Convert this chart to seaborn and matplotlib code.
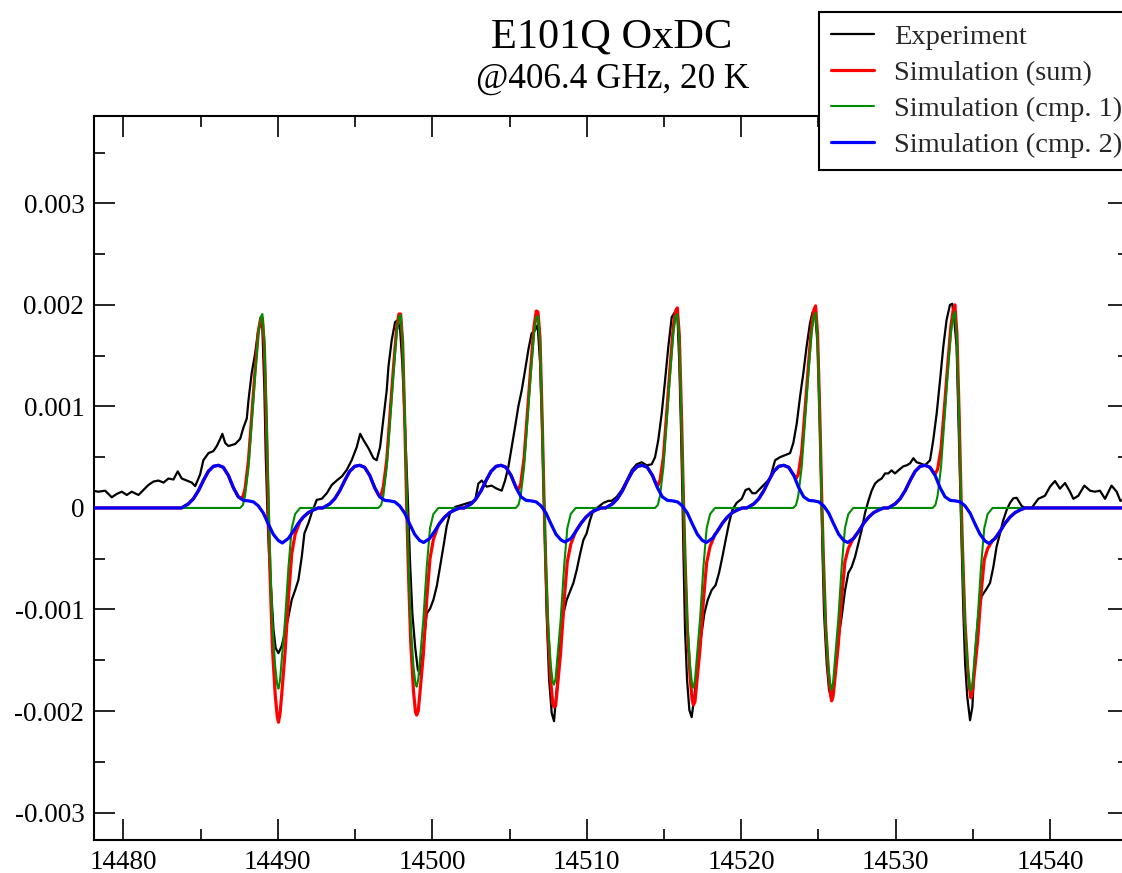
import matplotlib
matplotlib.use("Agg")
import matplotlib.pyplot as plt
from matplotlib.ticker import FixedLocator, MultipleLocator
import numpy as np
import seaborn as sns

# Field axis in mT, signals in units of 1e-3 (derivative EPR amplitude)

# --- Experimental trace ---
exp_field = [
    14478.00, 14478.39, 14478.82, 14479.25, 14479.57, 14479.90, 14480.22, 14480.54, 14480.98, 14481.30,
    14481.62, 14481.95, 14482.27, 14482.60, 14482.92, 14483.24, 14483.52, 14483.78, 14484.10, 14484.43,
    14484.65, 14484.97, 14485.18, 14485.51, 14485.83, 14486.05, 14486.27, 14486.41, 14486.59, 14486.80,
    14487.24, 14487.56, 14487.77, 14487.99, 14488.10, 14488.31, 14488.53, 14488.70, 14488.85, 14489.00,
    14489.13, 14489.22, 14489.35, 14489.44, 14489.57, 14489.72, 14489.86, 14490.04, 14490.25, 14490.47,
    14490.69, 14490.90, 14491.12, 14491.33, 14491.55, 14491.72, 14491.98, 14492.19, 14492.52, 14492.84,
    14493.17, 14493.49, 14493.81, 14494.14, 14494.46, 14494.78, 14495.11, 14495.33, 14495.54, 14495.86,
    14496.19, 14496.40, 14496.62, 14496.83, 14497.05, 14497.16, 14497.37, 14497.59, 14497.76, 14497.92,
    14498.06, 14498.24, 14498.41, 14498.56, 14498.71, 14498.89, 14499.06, 14499.21, 14499.42, 14499.64,
    14499.86, 14500.07, 14500.29, 14500.50, 14500.72, 14500.93, 14501.15, 14501.48, 14501.90, 14502.34,
    14502.77, 14502.98, 14503.20, 14503.52, 14503.84, 14504.17, 14504.49, 14504.71, 14504.93, 14505.14,
    14505.36, 14505.57, 14505.79, 14506.01, 14506.22, 14506.43, 14506.65, 14506.82, 14506.98, 14507.08,
    14507.19, 14507.30, 14507.40, 14507.56, 14507.73, 14507.88, 14508.05, 14508.27, 14508.49, 14508.70,
    14508.92, 14509.13, 14509.35, 14509.57, 14509.78, 14509.99, 14510.21, 14510.43, 14510.75, 14511.07,
    14511.40, 14511.61, 14511.94, 14512.26, 14512.58, 14512.91, 14513.23, 14513.55, 14513.88, 14514.20,
    14514.42, 14514.63, 14514.85, 14515.07, 14515.28, 14515.50, 14515.72, 14515.88, 14515.99, 14516.10,
    14516.19, 14516.27, 14516.36, 14516.49, 14516.64, 14516.79, 14516.96, 14517.18, 14517.40, 14517.61,
    14517.83, 14518.08, 14518.34, 14518.56, 14518.78, 14518.99, 14519.21, 14519.42, 14519.70, 14520.03,
    14520.28, 14520.50, 14520.72, 14520.93, 14521.22, 14521.54, 14521.86, 14522.19, 14522.51, 14522.83,
    14523.16, 14523.37, 14523.59, 14523.81, 14524.02, 14524.23, 14524.45, 14524.62, 14524.78, 14524.95,
    14525.07, 14525.17, 14525.25, 14525.36, 14525.53, 14525.68, 14525.85, 14526.07, 14526.28, 14526.50,
    14526.72, 14526.93, 14527.15, 14527.37, 14527.58, 14527.79, 14528.01, 14528.23, 14528.44, 14528.66,
    14528.87, 14529.09, 14529.31, 14529.52, 14529.73, 14529.95, 14530.17, 14530.49, 14530.71, 14530.93,
    14531.14, 14531.35, 14531.57, 14531.90, 14532.22, 14532.43, 14532.65, 14532.87, 14533.08, 14533.29,
    14533.51, 14533.66, 14533.79, 14533.94, 14534.05, 14534.16, 14534.27, 14534.38, 14534.49, 14534.63,
    14534.81, 14534.96, 14535.13, 14535.35, 14535.56, 14535.82, 14536.10, 14536.32, 14536.53, 14536.75,
    14536.96, 14537.18, 14537.40, 14537.61, 14537.83, 14538.15, 14538.37, 14538.80, 14539.23, 14539.66,
    14539.99, 14540.31, 14540.63, 14540.96, 14541.28, 14541.50, 14541.82, 14542.21, 14542.58, 14542.90,
    14543.22, 14543.55, 14543.97, 14544.30, 14544.54, 14545.10,
]
exp_signal = [
    0.17, 0.16, 0.17, 0.105, 0.138, 0.16, 0.128, 0.16, 0.128, 0.177,
    0.226, 0.26, 0.27, 0.25, 0.29, 0.28, 0.36, 0.29, 0.27, 0.25,
    0.215, 0.33, 0.47, 0.54, 0.56, 0.61, 0.68, 0.73, 0.64, 0.61,
    0.63, 0.68, 0.79, 0.88, 1.06, 1.33, 1.52, 1.72, 1.82, 1.77,
    1.16, 0.50, -0.15, -0.48, -0.81, -1.20, -1.38, -1.43, -1.36, -1.22,
    -1.07, -0.905, -0.81, -0.71, -0.48, -0.25, -0.15, -0.05, 0.08, 0.09,
    0.145, 0.226, 0.27, 0.31, 0.374, 0.47, 0.60, 0.73, 0.67, 0.59,
    0.49, 0.47, 0.60, 0.87, 1.16, 1.39, 1.65, 1.83, 1.85, 1.75,
    1.42, 0.77, 0.11, -0.54, -1.04, -1.37, -1.59, -1.64, -1.37, -1.04,
    -0.99, -0.905, -0.77, -0.58, -0.38, -0.18, -0.05, 0.01, 0.03, 0.05,
    0.07, 0.24, 0.27, 0.21, 0.22, 0.19, 0.17, 0.27, 0.41, 0.60,
    0.80, 1.00, 1.16, 1.36, 1.56, 1.72, 1.75, 1.80, 1.42, 0.93,
    0.27, -0.38, -1.04, -1.69, -2.02, -2.10, -1.79, -1.37, -1.04, -0.905,
    -0.82, -0.74, -0.61, -0.45, -0.315, -0.25, -0.12, -0.02, 0.01, 0.05,
    0.07, 0.07, 0.11, 0.177, 0.27, 0.374, 0.43, 0.45, 0.42, 0.43,
    0.50, 0.67, 0.93, 1.26, 1.59, 1.88, 1.93, 1.85, 1.42, 0.77,
    0.11, -0.54, -1.20, -1.69, -1.99, -2.06, -1.86, -1.53, -1.27, -1.04,
    -0.905, -0.81, -0.76, -0.64, -0.48, -0.315, -0.15, -0.02, 0.05, 0.09,
    0.177, 0.19, 0.145, 0.145, 0.19, 0.24, 0.29, 0.47, 0.50, 0.52,
    0.54, 0.64, 0.83, 1.10, 1.33, 1.59, 1.82, 1.93, 1.92, 1.59,
    0.93, 0.27, -0.38, -1.04, -1.53, -1.79, -1.88, -1.62, -1.30, -1.07,
    -0.81, -0.64, -0.58, -0.48, -0.35, -0.22, -0.05, 0.07, 0.17, 0.24,
    0.27, 0.29, 0.34, 0.34, 0.37, 0.34, 0.37, 0.41, 0.42, 0.44,
    0.49, 0.45, 0.44, 0.42, 0.47, 0.67, 0.93, 1.26, 1.59, 1.85,
    2.00, 2.01, 1.85, 1.59, 0.93, 0.27, -0.38, -1.04, -1.53, -1.86,
    -2.09, -1.96, -1.46, -1.04, -0.87, -0.81, -0.74, -0.58, -0.38, -0.25,
    -0.12, -0.02, 0.05, 0.095, 0.10, 0.02, 0.0, 0.0, 0.09, 0.12,
    0.21, 0.265, 0.19, 0.245, 0.16, 0.09, 0.12, 0.22, 0.17, 0.16,
    0.17, 0.09, 0.22, 0.16, 0.07, 0.10,
]

# --- Simulated component 1 (narrow lines) ---
cmp1_field = [
    14478.10,
    14487.56, 14487.74, 14487.88, 14488.10, 14488.31, 14488.53, 14488.74, 14488.89, 14489.00, 14489.13, 14489.28, 14489.39,
    14489.50, 14489.65, 14489.83, 14489.96, 14490.04, 14490.14, 14490.25, 14490.47, 14490.69, 14490.90, 14491.12, 14491.44,
    14496.51, 14496.69, 14496.83, 14497.05, 14497.26, 14497.48, 14497.69, 14497.84, 14497.95, 14498.08, 14498.23, 14498.34,
    14498.45, 14498.60, 14498.78, 14498.91, 14498.99, 14499.09, 14499.20, 14499.42, 14499.64, 14499.85, 14500.07, 14500.39,
    14505.40, 14505.58, 14505.72, 14505.94, 14506.15, 14506.37, 14506.58, 14506.73, 14506.84, 14506.97, 14507.12, 14507.23,
    14507.34, 14507.49, 14507.67, 14507.80, 14507.88, 14507.98, 14508.09, 14508.31, 14508.53, 14508.74, 14508.96, 14509.28,
    14514.42, 14514.60, 14514.74, 14514.96, 14515.17, 14515.39, 14515.60, 14515.75, 14515.86, 14515.99, 14516.14, 14516.25,
    14516.36, 14516.51, 14516.69, 14516.82, 14516.90, 14517.00, 14517.11, 14517.33, 14517.55, 14517.76, 14517.98, 14518.30,
    14523.37, 14523.55, 14523.69, 14523.91, 14524.12, 14524.34, 14524.55, 14524.70, 14524.81, 14524.94, 14525.09, 14525.20,
    14525.31, 14525.46, 14525.64, 14525.77, 14525.85, 14525.95, 14526.06, 14526.28, 14526.50, 14526.71, 14526.93, 14527.25,
    14532.39, 14532.57, 14532.71, 14532.93, 14533.14, 14533.36, 14533.57, 14533.72, 14533.83, 14533.96, 14534.11, 14534.22,
    14534.33, 14534.48, 14534.66, 14534.79, 14534.87, 14534.97, 14535.08, 14535.30, 14535.52, 14535.73, 14535.95, 14536.27,
    14545.10,
]
cmp1_signal = [
    0.0,
    0.0, 0.03, 0.12, 0.40, 0.85, 1.31, 1.72, 1.88, 1.91, 1.65, 0.83, 0.11,
    -0.48, -1.14, -1.56, -1.74, -1.78, -1.70, -1.50, -1.10, -0.58, -0.20, -0.06, 0.0,
    0.0, 0.03, 0.12, 0.40, 0.85, 1.31, 1.72, 1.88, 1.90, 1.65, 0.83, 0.11,
    -0.48, -1.14, -1.56, -1.73, -1.76, -1.69, -1.50, -1.10, -0.58, -0.20, -0.06, 0.0,
    0.0, 0.03, 0.12, 0.40, 0.85, 1.31, 1.71, 1.87, 1.89, 1.65, 0.83, 0.11,
    -0.48, -1.13, -1.55, -1.72, -1.74, -1.68, -1.49, -1.10, -0.58, -0.20, -0.06, 0.0,
    0.0, 0.03, 0.12, 0.40, 0.85, 1.31, 1.72, 1.88, 1.91, 1.66, 0.83, 0.11,
    -0.48, -1.14, -1.56, -1.74, -1.77, -1.70, -1.50, -1.10, -0.58, -0.20, -0.06, 0.0,
    0.0, 0.03, 0.12, 0.40, 0.85, 1.31, 1.72, 1.88, 1.92, 1.66, 0.83, 0.11,
    -0.48, -1.14, -1.57, -1.75, -1.79, -1.71, -1.51, -1.10, -0.58, -0.20, -0.06, 0.0,
    0.0, 0.03, 0.12, 0.40, 0.85, 1.31, 1.72, 1.89, 1.93, 1.66, 0.83, 0.11,
    -0.48, -1.14, -1.57, -1.76, -1.80, -1.72, -1.51, -1.10, -0.58, -0.20, -0.06, 0.0,
    0.0,
]

# --- Simulated component 2 (broad lines) ---
cmp2_field = [
    14478.10,
    14483.76, 14484.21, 14484.53, 14484.86, 14485.18, 14485.50, 14485.83, 14486.15, 14486.47, 14486.80, 14487.12, 14487.44, 14487.77, 14488.09,
    14488.42, 14488.74, 14489.06, 14489.39, 14489.71, 14490.03, 14490.29, 14490.68, 14491.00, 14491.33, 14491.65, 14491.98, 14492.30, 14492.62,
    14492.91, 14493.36, 14493.68, 14494.01, 14494.33, 14494.65, 14494.98, 14495.30, 14495.62, 14495.95, 14496.27, 14496.59, 14496.92, 14497.24,
    14497.57, 14497.89, 14498.21, 14498.54, 14498.86, 14499.18, 14499.44, 14499.83, 14500.15, 14500.48, 14500.80, 14501.13, 14501.45, 14501.77,
    14502.06, 14502.51, 14502.83, 14503.16, 14503.48, 14503.80, 14504.13, 14504.45, 14504.77, 14505.10, 14505.42, 14505.74, 14506.07, 14506.39,
    14506.72, 14507.04, 14507.36, 14507.69, 14508.01, 14508.33, 14508.59, 14508.98, 14509.30, 14509.63, 14509.95, 14510.28, 14510.60, 14510.92,
    14511.21, 14511.66, 14511.98, 14512.31, 14512.63, 14512.95, 14513.28, 14513.60, 14513.92, 14514.25, 14514.57, 14514.89, 14515.22, 14515.54,
    14515.87, 14516.19, 14516.51, 14516.84, 14517.16, 14517.48, 14517.74, 14518.13, 14518.45, 14518.78, 14519.10, 14519.43, 14519.75, 14520.07,
    14520.36, 14520.81, 14521.13, 14521.46, 14521.78, 14522.10, 14522.43, 14522.75, 14523.07, 14523.40, 14523.72, 14524.04, 14524.37, 14524.69,
    14525.02, 14525.34, 14525.66, 14525.99, 14526.31, 14526.63, 14526.89, 14527.28, 14527.60, 14527.93, 14528.25, 14528.58, 14528.90, 14529.22,
    14529.51, 14529.96, 14530.28, 14530.61, 14530.93, 14531.25, 14531.58, 14531.90, 14532.22, 14532.55, 14532.87, 14533.19, 14533.52, 14533.84,
    14534.17, 14534.49, 14534.81, 14535.14, 14535.46, 14535.78, 14536.04, 14536.43, 14536.75, 14537.08, 14537.40, 14537.73, 14538.05, 14538.37,
    14545.10,
]
cmp2_signal = [
    0.0,
    0.0, 0.04, 0.09, 0.17, 0.27, 0.36, 0.41, 0.42, 0.40, 0.32, 0.20, 0.11, 0.075, 0.07,
    0.06, 0.02, -0.05, -0.16, -0.26, -0.32, -0.345, -0.30, -0.23, -0.15, -0.09, -0.045, -0.02, 0.0,
    0.0, 0.04, 0.09, 0.17, 0.27, 0.36, 0.41, 0.42, 0.40, 0.32, 0.20, 0.11, 0.075, 0.07,
    0.06, 0.02, -0.05, -0.16, -0.26, -0.32, -0.34, -0.30, -0.23, -0.15, -0.09, -0.045, -0.02, 0.0,
    0.0, 0.04, 0.09, 0.17, 0.27, 0.36, 0.41, 0.42, 0.40, 0.32, 0.20, 0.11, 0.075, 0.07,
    0.06, 0.02, -0.05, -0.16, -0.26, -0.315, -0.335, -0.30, -0.23, -0.15, -0.09, -0.045, -0.02, 0.0,
    0.0, 0.04, 0.09, 0.17, 0.27, 0.36, 0.41, 0.42, 0.40, 0.32, 0.20, 0.11, 0.075, 0.07,
    0.06, 0.02, -0.05, -0.16, -0.26, -0.32, -0.34, -0.30, -0.23, -0.15, -0.09, -0.045, -0.02, 0.0,
    0.0, 0.04, 0.09, 0.17, 0.27, 0.36, 0.41, 0.42, 0.40, 0.32, 0.20, 0.11, 0.075, 0.07,
    0.06, 0.02, -0.05, -0.16, -0.26, -0.32, -0.34, -0.30, -0.23, -0.15, -0.09, -0.045, -0.02, 0.0,
    0.0, 0.04, 0.09, 0.17, 0.27, 0.36, 0.41, 0.42, 0.40, 0.32, 0.20, 0.11, 0.075, 0.07,
    0.06, 0.02, -0.05, -0.16, -0.26, -0.325, -0.35, -0.30, -0.23, -0.15, -0.09, -0.045, -0.02, 0.0,
    0.0,
]

# --- Simulated sum of both components ---
sum_field = [
    14478.10,
    14483.76, 14484.21, 14484.53, 14484.86, 14485.18, 14485.50, 14485.83, 14486.15, 14486.47, 14486.80, 14487.12, 14487.44,
    14487.56, 14487.74, 14487.88, 14488.10, 14488.31, 14488.53, 14488.74, 14488.89, 14489.00, 14489.13, 14489.28, 14489.39,
    14489.50, 14489.65, 14489.83, 14489.96, 14490.04, 14490.14, 14490.25, 14490.47, 14490.69, 14490.90, 14491.12, 14491.44,
    14491.65, 14491.98, 14492.30, 14492.62,
    14492.91, 14493.36, 14493.68, 14494.01, 14494.33, 14494.65, 14494.98, 14495.30, 14495.62, 14495.95, 14496.27,
    14496.51, 14496.69, 14496.83, 14497.05, 14497.26, 14497.48, 14497.69, 14497.84, 14497.95, 14498.08, 14498.23, 14498.34,
    14498.45, 14498.60, 14498.78, 14498.91, 14498.99, 14499.09, 14499.20, 14499.42, 14499.64, 14499.85, 14500.07, 14500.39,
    14500.48, 14500.80, 14501.13, 14501.45, 14501.77,
    14502.06, 14502.51, 14502.83, 14503.16, 14503.48, 14503.80, 14504.13, 14504.45, 14504.77, 14505.10,
    14505.40, 14505.58, 14505.72, 14505.94, 14506.15, 14506.37, 14506.58, 14506.73, 14506.84, 14506.97, 14507.12, 14507.23,
    14507.34, 14507.49, 14507.67, 14507.80, 14507.88, 14507.98, 14508.09, 14508.31, 14508.53, 14508.74, 14508.96, 14509.28,
    14509.63, 14509.95, 14510.28, 14510.60, 14510.92,
    14511.21, 14511.66, 14511.98, 14512.31, 14512.63, 14512.95, 14513.28, 14513.60, 14513.92, 14514.25,
    14514.42, 14514.60, 14514.74, 14514.96, 14515.17, 14515.39, 14515.60, 14515.75, 14515.86, 14515.99, 14516.14, 14516.25,
    14516.36, 14516.51, 14516.69, 14516.82, 14516.90, 14517.00, 14517.11, 14517.33, 14517.55, 14517.76, 14517.98, 14518.30,
    14518.45, 14518.78, 14519.10, 14519.43, 14519.75, 14520.07,
    14520.36, 14520.81, 14521.13, 14521.46, 14521.78, 14522.10, 14522.43, 14522.75, 14523.07,
    14523.37, 14523.55, 14523.69, 14523.91, 14524.12, 14524.34, 14524.55, 14524.70, 14524.81, 14524.94, 14525.09, 14525.20,
    14525.31, 14525.46, 14525.64, 14525.77, 14525.85, 14525.95, 14526.06, 14526.28, 14526.50, 14526.71, 14526.93, 14527.25,
    14527.60, 14527.93, 14528.25, 14528.58, 14528.90, 14529.22,
    14529.51, 14529.96, 14530.28, 14530.61, 14530.93, 14531.25, 14531.58, 14531.90, 14532.22,
    14532.39, 14532.57, 14532.71, 14532.93, 14533.14, 14533.36, 14533.57, 14533.72, 14533.83, 14533.96, 14534.11, 14534.22,
    14534.33, 14534.48, 14534.66, 14534.79, 14534.87, 14534.97, 14535.08, 14535.30, 14535.52, 14535.73, 14535.95, 14536.27,
    14536.43, 14536.75, 14537.08, 14537.40, 14537.73, 14538.05, 14538.37,
    14545.10,
]
sum_signal = [
    0.0,
    0.0, 0.04, 0.09, 0.17, 0.27, 0.36, 0.41, 0.42, 0.40, 0.32, 0.20, 0.11,
    0.10, 0.11, 0.19, 0.47, 0.91, 1.36, 1.74, 1.87, 1.87, 1.58, 0.71, -0.05,
    -0.67, -1.38, -1.84, -2.05, -2.11, -2.03, -1.84, -1.42, -0.88, -0.45, -0.26, -0.13,
    -0.09, -0.045, -0.02, 0.0,
    0.0, 0.04, 0.09, 0.17, 0.27, 0.36, 0.41, 0.42, 0.40, 0.32, 0.20,
    0.13, 0.13, 0.21, 0.47, 0.92, 1.37, 1.77, 1.91, 1.91, 1.63, 0.77, 0.02,
    -0.61, -1.32, -1.80, -2.01, -2.04, -2.00, -1.82, -1.44, -0.90, -0.50, -0.31, -0.17,
    -0.15, -0.09, -0.045, -0.02, 0.0,
    0.0, 0.04, 0.09, 0.17, 0.27, 0.36, 0.41, 0.42, 0.40, 0.32,
    0.21, 0.185, 0.235, 0.49, 0.92, 1.38, 1.78, 1.94, 1.93, 1.68, 0.83, 0.09,
    -0.53, -1.23, -1.71, -1.93, -1.96, -1.95, -1.78, -1.42, -0.92, -0.53, -0.36, -0.23,
    -0.15, -0.09, -0.045, -0.02, 0.0,
    0.0, 0.04, 0.09, 0.17, 0.27, 0.36, 0.41, 0.42, 0.40, 0.32,
    0.26, 0.22, 0.27, 0.50, 0.93, 1.38, 1.79, 1.94, 1.97, 1.70, 0.86, 0.12,
    -0.50, -1.19, -1.67, -1.89, -1.94, -1.91, -1.74, -1.39, -0.91, -0.54, -0.38, -0.26,
    -0.23, -0.15, -0.09, -0.045, -0.02, 0.0,
    0.0, 0.04, 0.09, 0.17, 0.27, 0.36, 0.41, 0.42, 0.40,
    0.33, 0.29, 0.33, 0.55, 0.95, 1.39, 1.79, 1.95, 1.99, 1.71, 0.88, 0.15,
    -0.46, -1.15, -1.61, -1.83, -1.90, -1.85, -1.68, -1.35, -0.88, -0.53, -0.40, -0.30,
    -0.23, -0.15, -0.09, -0.045, -0.02, 0.0,
    0.0, 0.04, 0.09, 0.17, 0.27, 0.36, 0.41, 0.42, 0.40,
    0.36, 0.34, 0.38, 0.58, 0.97, 1.40, 1.79, 1.95, 2.00, 1.72, 0.89, 0.16,
    -0.44, -1.12, -1.58, -1.79, -1.87, -1.80, -1.64, -1.31, -0.85, -0.51, -0.40, -0.32,
    -0.30, -0.23, -0.15, -0.09, -0.045, -0.02, 0.0,
    0.0,
]

series_labels = ["Experiment", "Simulation (sum)", "Simulation (cmp. 1)", "Simulation (cmp. 2)"]
series_colors = ["#000000", "#ff0000", "#008c00", "#0000ff"]

x_ticks = [14480, 14490, 14500, 14510, 14520, 14530, 14540]
y_ticks = [-0.003, -0.002, -0.001, 0.0, 0.001, 0.002, 0.003]
y_tick_labels = ["-0.003", "-0.002", "-0.001", "0", "0.001", "0.002", "0.003"]

title_text = "E101Q OxDC"
subtitle_text = "@406.4 GHz, 20 K"

# ---------------------------------------------------------------------------
sns.set_theme(style="ticks")
plt.rcParams["font.family"] = ["Liberation Serif", "DejaVu Serif"]
plt.rcParams["axes.unicode_minus"] = False

W, H = 1122, 873
fig = plt.figure(figsize=(W / 100, H / 100), dpi=100)
fig.patch.set_facecolor("white")
ax = fig.add_axes([94 / W, 33 / H, 1035 / W, 724 / H])
ax.set_facecolor("white")

unit = 1e-3
curves = [
    (exp_field, exp_signal, 1.6),
    (sum_field, sum_signal, 2.3),
    (cmp1_field, cmp1_signal, 1.5),
    (cmp2_field, cmp2_signal, 2.3),
]
for i, (fx, sy, lw) in enumerate(curves):
    sns.lineplot(x=np.asarray(fx), y=np.asarray(sy) * unit, ax=ax,
                 color=series_colors[i], linewidth=lw, label=series_labels[i],
                 sort=False, estimator=None, zorder=2 + i)

ax.set_xlim(14478.1, 14545.1)
ax.set_ylim(-0.00327, 0.00386)
ax.set_xlabel("")
ax.set_ylabel("")

ax.xaxis.set_major_locator(FixedLocator(x_ticks))
ax.xaxis.set_minor_locator(MultipleLocator(5))
ax.yaxis.set_major_locator(FixedLocator(y_ticks))
ax.yaxis.set_minor_locator(MultipleLocator(0.0005))
ax.set_xticklabels([str(t) for t in x_ticks])
ax.set_yticklabels(y_tick_labels)

ax.tick_params(which="both", direction="in", top=True, right=True,
               color="black", labelcolor="black", width=1.2, labelsize=19.5)
ax.tick_params(which="major", length=15, pad=7)
ax.tick_params(which="minor", length=8)
for sp in ax.spines.values():
    sp.set_color("black")
    sp.set_linewidth(1.5)
ax.grid(False)

leg = ax.legend(loc="upper left", bbox_to_anchor=(819 / W, 1 - 12 / H),
                bbox_transform=fig.transFigure, fontsize=20.5, frameon=True,
                fancybox=False, edgecolor="black", facecolor="white", framealpha=1,
                borderpad=0.42, handlelength=1.5, handletextpad=0.72,
                labelspacing=0.36, borderaxespad=0)
leg.get_frame().set_linewidth(1.5)
leg.set_zorder(20)

fig.text(611.5 / W, 1 - 47 / H, title_text, ha="center", va="baseline",
         fontsize=30.5, color="black")
fig.text(613 / W, 1 - 88 / H, subtitle_text, ha="center", va="baseline",
         fontsize=25.3, color="black")

fig.savefig("out.png", dpi=100, facecolor="white")
